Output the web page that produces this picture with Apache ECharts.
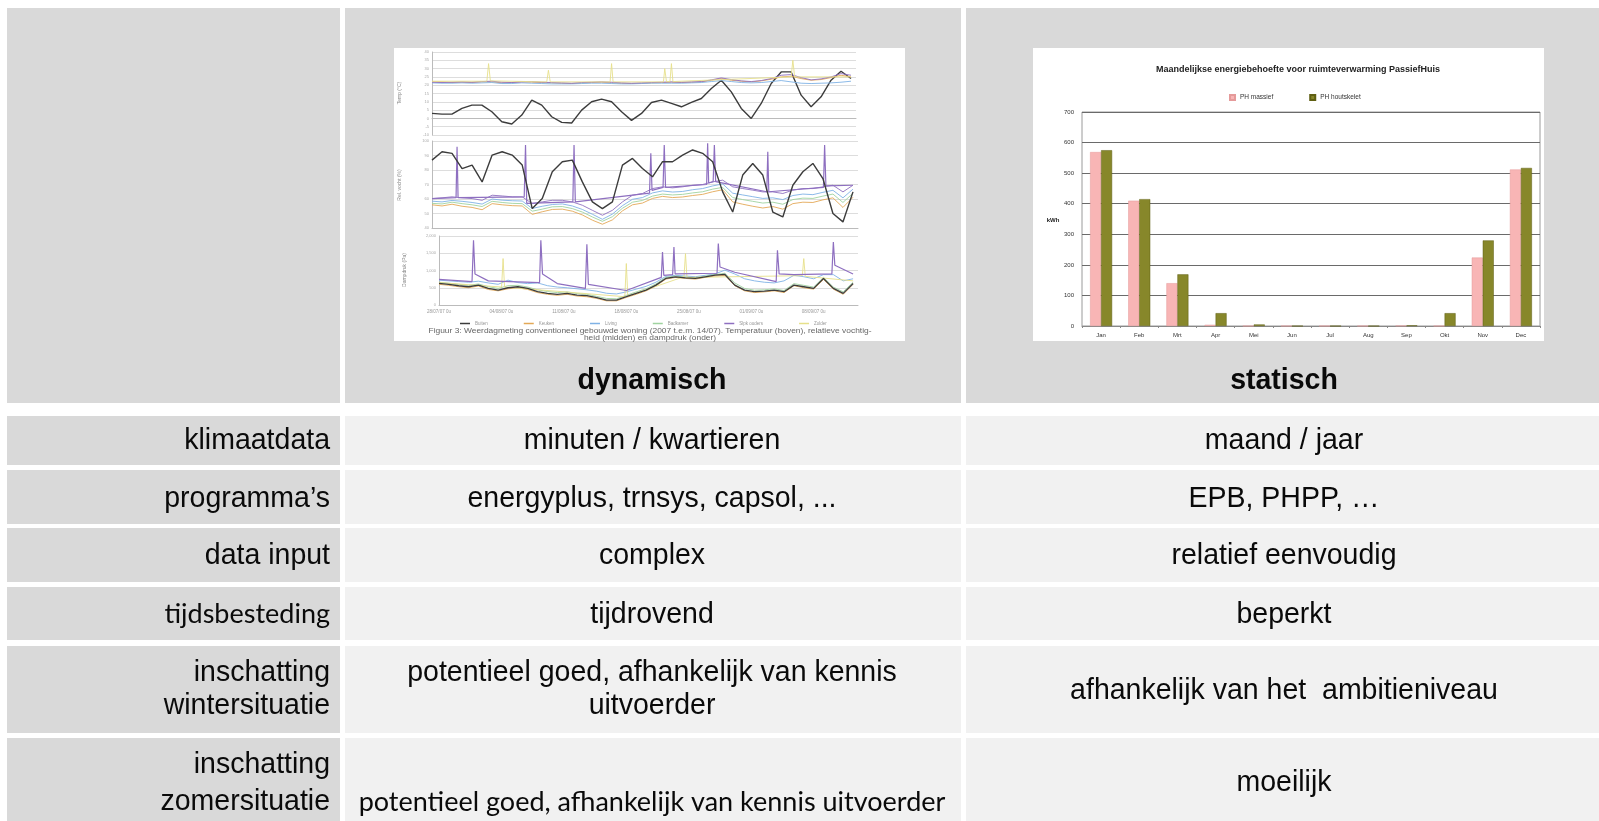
<!DOCTYPE html>
<html><head><meta charset="utf-8">
<script src="https://cdn.jsdelivr.net/npm/echarts@6/dist/echarts.min.js"></script>
<style>html,body{margin:0;padding:0;background:#fff}#c{width:1599px;height:821px}</style>
</head><body><div id="c"></div>
<script>
// ---------- table text ----------
const headerLabels = ['', 'dynamisch', 'statisch'];
const rowLabels = [['klimaatdata'], ['programma’s'], ['data input'], ['tijdsbesteding'], ['inschatting', 'wintersituatie'], ['inschatting', 'zomersituatie']];
const dynTexts = [['minuten / kwartieren'], ['energyplus, trnsys, capsol, ...'], ['complex'], ['tijdrovend'], ['potentieel goed, afhankelijk van kennis', 'uitvoerder'], ['potentieel goed, afhankelijk van kennis uitvoerder']];
const statTexts = [['maand / jaar'], ['EPB, PHPP, …'], ['relatief eenvoudig'], ['beperkt'], ['afhankelijk van het  ambitieniveau'], ['moeilijk']];

// ---------- bar chart (statisch) ----------
const barTitle = 'Maandelijkse energiebehoefte voor ruimteverwarming PassiefHuis';
const months = ['Jan', 'Feb', 'Mrt', 'Apr', 'Mei', 'Jun', 'Jul', 'Aug', 'Sep', 'Okt', 'Nov', 'Dec'];
const phMassief = [569, 410, 140, 4, 0, 0, 0, 0, 1, 0, 224, 512];
const phHoutskelet = [575, 415, 169, 42, 5, 0, 0, 0, 2, 42, 280, 517];
const barYLabel = 'kWh';

// ---------- line chart (dynamisch) ----------
const roomNames = ['Buiten', 'Keuken', 'Living', 'Badkamer', 'Slpk ouders', 'Zolder'];
const dateLabels = ['28/07/07 0u', '04/08/07 0u', '11/08/07 0u', '18/08/07 0u', '25/08/07 0u', '01/09/07 0u', '08/09/07 0u'];
const panelTitles = ['Temp (°C)', 'Rel. vocht (%)', 'Dampdruk (Pa)'];
const captionLines = ['Figuur 3: Weerdagmeting conventioneel gebouwde woning (2007 t.e.m. 14/07). Temperatuur (boven), relatieve vochtig-', 'heid (midden) en dampdruk (onder)'];

// panel 1: temperature
const outdoorT = [3,2.6,2.6,6,8,8,4,-2,-3.4,2,11,8,1,-2.4,-2.8,5,10,11.6,10,4,-1.2,3,9.6,11,9,7,9.6,12,18,23,16,6,0,9,21,28,28,14,7,13,23,28.4,24];
const keukenT = [22,22,21.6,21.8,21.6,22,22,21.4,21.6,22,21.8,21.6,21.4,21.2,21,21.4,21.6,21.8,21.4,21.2,21,21.2,21.4,21.6,21.8,21.6,21.8,22,23,24,23,22.4,22,22.6,23.6,25,25.4,24,23,23.4,24.6,26,25];
const livingT = [21.4,21.2,21.2,21.4,21.2,21.4,21.6,21,21,21.4,21.2,21,20.8,20.8,20.8,21,21.2,21.2,21,20.8,20.8,21,21.2,21.2,21.2,21.2,21.4,21.6,22.2,22.8,22.2,21.6,21.4,21.6,22.2,22.8,22,21.2,21,21.2,21.4,21.8,22.4];
const slpkT = [21.8,21.6,21.8,22,21.8,22.2,22.4,21.8,21.6,22,22.2,21.8,21.6,21.4,21.2,21.6,21.8,22,21.8,21.4,21.2,21.4,21.6,21.8,22,21.8,22,22.2,23.2,24.4,23.4,22.6,22.2,22.8,24,26,26.4,24.6,23.2,23.8,25,27,26];
const zolderT = [[0,22.4],[5.5,22.4],[5.67,33],[5.85,22.6],[11.5,22],[11.67,29],[11.85,22],[17.85,22],[18,33],[18.15,22],[23.2,22],[23.33,30],[23.5,22.2],[23.85,22.2],[24,33],[24.15,22.2],[36,25],[36.17,35],[36.35,25],[42,25]];

// panel 2: relative humidity
const buitenRH = [86.8,92.6,91.5,81,83.4,71.8,90.3,92.6,90.3,83.4,53.4,60.3,78.8,85.7,86.8,71.8,58,53.4,58,83.4,88,81,75.3,85.7,85.7,90.3,93.8,91.5,85.7,64.9,51,76.5,84.5,76.5,51,47.6,69.5,78.8,84.5,74.1,50,44.2,64.9];
const slpkRH = [60.3,60.8,61.5,60.8,60.3,59.1,62.6,62.1,61.5,61.5,56.8,58,59.1,59.1,58,55.7,52.2,48.8,52.2,58,62.6,63.8,67.2,68.4,67.7,68.4,69.5,70,71.8,73,68.4,67.2,66.1,64.9,64.9,63.8,66.1,67.2,67.2,68.4,69.5,64.9,69.5];
const livingRH = [58.5,58,59,58.4,57.6,56.5,60,59.2,58.8,58.6,53.5,55,56.2,56.6,55.2,52.8,49.5,46,49.6,55.4,59.8,61,64.2,65.6,64.8,65.2,66.4,67.2,69,70.4,64,62.8,61.6,60.4,60.8,59.6,62.4,63.4,63,64.6,66,60.8,66.8];
const badRH = [57,56.6,57.8,56.8,56,54.8,58.4,57.6,57,56.8,51.6,53,54.6,54.8,53.4,51,47.6,44.6,47.8,53.6,57.8,59,62,63.4,62.8,63.2,64.2,65,66.8,68,61,59.6,58.4,57.2,57.8,56.4,59.6,60.6,60.4,62,63.4,57.6,64];
const keukenRH = [56,55.2,56.4,55,54.2,52.6,56.8,56,55.4,55.2,49.4,51.2,52.8,53,51.6,49,45.4,42.6,45.6,51.8,56,57.2,60.4,61.8,61,61.4,62.4,63.2,65,66.4,58,56.4,55,53.8,54.8,53,56.8,57.8,57.6,59.4,60.8,54.2,61.2];
const slpkRHPeaks = [[0,60.3],[2.4,61],[2.5,96],[2.6,61],[9.2,61.5],[9.33,97.2],[9.45,57],[14.05,58],[14.17,97.2],[14.3,58],[21.7,64],[21.83,91.5],[21.95,66],[23.05,68],[23.17,97.2],[23.3,68],[27.4,70],[27.5,98.4],[27.6,71],[28.05,72],[28.17,97.2],[28.3,72],[33.4,65],[33.5,92.6],[33.6,65],[39.05,68],[39.17,97.2],[39.3,69],[42,69.5]];

// panel 3: vapour pressure
const buitenVP = [625,596,558,529,577,481,433,500,529,481,385,337,308,337,288,269,212,144,144,240,337,433,577,769,817,788,769,817,865,885,577,433,385,404,433,385,577,529,481,769,481,337,625];
const livingVP = [720,700,680,660,690,640,600,720,650,620,640,560,520,500,470,440,400,340,320,380,460,540,660,830,860,840,820,860,900,1010,900,760,700,660,640,700,860,820,760,880,880,700,760];
const badVP = [660,630,600,570,610,530,480,560,570,520,440,390,360,380,330,310,250,190,180,280,380,470,610,800,840,810,790,840,880,920,640,480,430,440,470,420,620,570,520,800,520,380,660];
const keukenVP = [600,570,530,500,550,450,410,470,500,450,360,310,280,310,260,240,190,120,120,220,310,410,550,750,800,770,750,800,840,860,560,410,360,380,410,360,560,500,460,740,460,310,600];
const slpkVP = [[0,740],[3.35,680],[3.5,1875],[3.65,900],[5,700],[10.2,650],[10.33,1875],[10.5,900],[12,620],[14.85,480],[15,1760],[15.15,600],[19,420],[22.55,800],[22.67,1538],[22.8,860],[23.7,880],[23.83,1683],[23.95,900],[28.2,920],[28.33,1779],[28.5,1100],[30,950],[34.2,680],[34.33,1587],[34.5,900],[36,880],[39.85,900],[40,1827],[40.15,1150],[42,900]];
const zolderVP = [[0,650],[6.35,520],[6.5,1346],[6.65,520],[18.85,240],[19,1202],[19.15,260],[24.85,820],[25,1490],[25.15,800],[36.85,850],[37,1346],[37.15,830],[42,700]];

// ---------- build ----------
const colors = {'Buiten':'#3c3c3c','Keuken':'#e3a857','Living':'#7fb2e5','Badkamer':'#9fd39f','Slpk ouders':'#8e6fc0','Zolder':'#e6e08a'};
const idx = arr => arr.map((v, i) => [i, v]);

const colX = [[7, 340], [345, 961], [966, 1599]];
const rowY = [[8, 403], [416, 465], [470, 524], [528, 582], [587, 640], [646, 733], [738, 821]];
const graphics = [];
rowY.forEach((r, ri) => {
  colX.forEach((c, ci) => {
    const fill = (ri === 0 || ci === 0) ? '#d9d9d9' : '#f1f1f1';
    graphics.push({type: 'rect', z: -20, shape: {x: c[0], y: r[0], width: c[1] - c[0], height: r[1] - r[0]}, style: {fill: fill}});
  });
});
// white picture areas in header
graphics.push({type: 'rect', z: -10, shape: {x: 394, y: 48, width: 511, height: 293}, style: {fill: '#fff'}});
graphics.push({type: 'rect', z: -10, shape: {x: 1033, y: 48, width: 511, height: 293}, style: {fill: '#fff'}});

function txt(x, y, s, o) {
  o = o || {};
  return {type: 'text', x: x, y: y, z: 20, scaleX: o.sx == null ? 0.95 : o.sx, rotation: o.rot || 0,
    style: {text: s, fontSize: o.fs || 30, fontFamily: o.ff || 'Liberation Sans', fontWeight: o.fw || 'normal',
      fill: o.fill || '#0a0a0a', align: o.al || 'center', verticalAlign: 'middle', textAlign: o.al || 'center', textVerticalAlign: 'middle'}};
}
// header
graphics.push(txt(652, 381, headerLabels[1], {fw: 'bold'}));
graphics.push(txt(1284, 381, headerLabels[2], {fw: 'bold'}));
// row text centres
const lineY = [[440.5], [498.5], [556], [614.5], [673, 706], [765, 802]];
rowLabels.forEach((lines, i) => {
  lines.forEach((s, j) => {
    if (i === 3) graphics.push(txt(330, lineY[i][j], s, {fs: 27, ff: 'Lato', sx: 1, al: 'right'}));
    else graphics.push(txt(330, lineY[i][j], s, {al: 'right'}));
  });
});
dynTexts.forEach((lines, i) => {
  lines.forEach((s, j) => {
    if (i === 5) graphics.push(txt(652, 802.5, s, {fs: 27, ff: 'Lato', sx: 1}));
    else graphics.push(txt(652, lineY[i][j], s));
  });
});
const statY = [440.5, 498.5, 556, 614.5, 690.5, 783];
statTexts.forEach((lines, i) => graphics.push(txt(1284, statY[i], lines[0])));

// bar chart texts
graphics.push(txt(1298, 70, barTitle, {fs: 9, fw: 'bold', sx: 1, fill: '#222'}));
graphics.push(txt(1053, 220, barYLabel, {fs: 6, fw: 'bold', sx: 1, fill: '#222'}));
// line chart texts
graphics.push(txt(650, 331, captionLines[0], {fs: 7.5, sx: 1.12, fill: '#666'}));
graphics.push(txt(650, 338, captionLines[1], {fs: 7.5, sx: 1.12, fill: '#666'}));
[[400, 93], [400, 185], [405, 270]].forEach((p, i) => graphics.push(txt(p[0], p[1], panelTitles[i], {fs: 5, sx: 1, fill: '#888', rot: Math.PI / 2})));

function xAx(g, labels) {
  return {gridIndex: g, type: 'value', min: 0, max: 42.5, interval: 42 / 6.63,
    axisLine: {lineStyle: {color: '#bbb'}}, axisTick: {show: false},
    axisLabel: {show: !!labels, fontSize: 4.5, color: '#999', margin: 4,
      formatter: v => { const k = Math.round(v / (42 / 6.63)); return labels && k < labels.length && v < 42 ? labels[k] : ''; }},
    splitLine: {show: false}};
}
function yAx(g, min, max, iv) {
  return {gridIndex: g, type: 'value', min: min, max: max, interval: iv,
    axisLine: {show: true, lineStyle: {color: '#bbb'}}, axisTick: {show: false},
    axisLabel: {fontSize: 4, color: '#aaa', margin: 3},
    splitLine: {lineStyle: {color: '#d4d4d4', width: 0.8}}};
}
function line(name, data, xi, w) {
  return {name: name, type: 'line', xAxisIndex: xi, yAxisIndex: xi, data: data, showSymbol: false, symbol: 'none',
    color: colors[name], lineStyle: {width: w || 0.9, color: colors[name]}, animation: false, silent: true};
}

const option = {
  animation: false,
  graphic: {elements: graphics},
  grid: [
    {left: 432, top: 52, width: 424, height: 83},
    {left: 432, top: 141, width: 426, height: 87},
    {left: 439, top: 236, width: 419, height: 69},
    {left: 1082, top: 112, width: 458, height: 214, show: true, borderColor: '#9a9a9a', borderWidth: 1}
  ],
  legend: [
    {data: roomNames, left: 455, top: 316, itemWidth: 10, itemHeight: 1.5, itemGap: 36, icon: 'rect', selectedMode: false,
      textStyle: {fontSize: 4.5, color: '#999'}},
    {data: ['PH massief', 'PH houtskelet'], left: 1224, top: 89, itemWidth: 5, itemHeight: 5, itemGap: 36, icon: 'rect', selectedMode: false,
      textStyle: {fontSize: 6.5, color: '#333', fontFamily: 'Liberation Sans'}}
  ],
  xAxis: [
    xAx(0, null), xAx(1, null), xAx(2, dateLabels),
    {gridIndex: 3, type: 'category', data: months, axisLine: {lineStyle: {color: '#888'}},
      axisTick: {show: true, length: 2, lineStyle: {color: '#888'}},
      axisLabel: {fontSize: 6, color: '#333', margin: 6, fontFamily: 'Liberation Sans'}}
  ],
  yAxis: [
    yAx(0, -10, 40, 5), yAx(1, 40, 100, 10), yAx(2, 0, 2000, 500),
    {gridIndex: 3, type: 'value', min: 0, max: 700, interval: 100,
      axisLine: {show: false}, axisTick: {show: false},
      axisLabel: {fontSize: 6, color: '#333', margin: 8, fontFamily: 'Liberation Sans'},
      splitLine: {lineStyle: {color: '#6a6a6a', width: 1}}}
  ],
  series: [
    line('Buiten', idx(outdoorT), 0, 1.4),
    line('Keuken', idx(keukenT), 0),
    line('Living', idx(livingT), 0),
    line('Slpk ouders', idx(slpkT), 0),
    line('Zolder', zolderT, 0),
    line('Slpk ouders', idx(slpkRH), 1),
    line('Living', idx(livingRH), 1),
    line('Badkamer', idx(badRH), 1),
    line('Keuken', idx(keukenRH), 1),
    line('Slpk ouders', slpkRHPeaks, 1, 1.2),
    line('Buiten', idx(buitenRH), 1, 1.4),
    line('Living', idx(livingVP), 2),
    line('Badkamer', idx(badVP), 2),
    line('Keuken', idx(keukenVP), 2),
    line('Zolder', zolderVP, 2),
    line('Slpk ouders', slpkVP, 2, 1.2),
    line('Buiten', idx(buitenVP), 2, 1.3),
    {name: 'PH massief', type: 'bar', xAxisIndex: 3, yAxisIndex: 3, data: phMassief, barWidth: 11, barGap: '0%',
      itemStyle: {color: '#f8b5b5', borderColor: '#e59a9a', borderWidth: 0.5}, animation: false},
    {name: 'PH houtskelet', type: 'bar', xAxisIndex: 3, yAxisIndex: 3, data: phHoutskelet, barWidth: 11,
      itemStyle: {color: '#87872a', borderColor: '#5f5f12', borderWidth: 0.5}, animation: false}
  ]
};
const chart = echarts.init(document.getElementById('c'), null, {renderer: 'canvas'});
chart.setOption(option);
</script></body></html>
